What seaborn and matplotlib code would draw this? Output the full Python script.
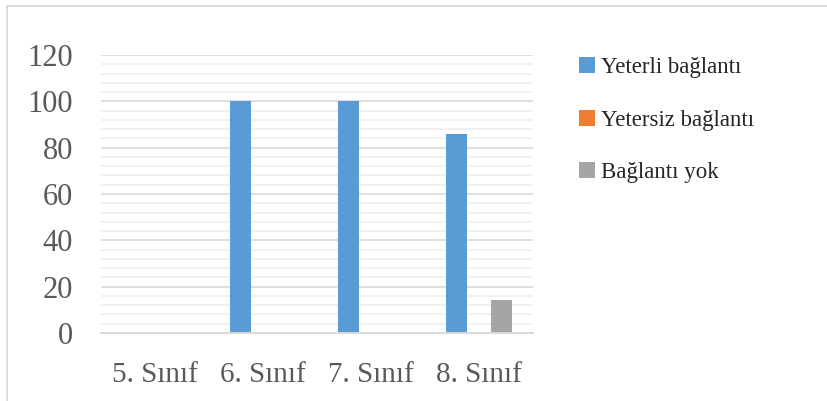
import matplotlib
matplotlib.use("Agg")
import matplotlib.pyplot as plt
from matplotlib.patches import Patch, Rectangle
from matplotlib.ticker import MultipleLocator
import pandas as pd
import seaborn as sns

grades = ["5. Sınıf", "6. Sınıf", "7. Sınıf", "8. Sınıf"]
series_names = ["Yeterli bağlantı", "Yetersiz bağlantı", "Bağlantı yok"]
yeterli = [0, 100, 100, 85.7]
yetersiz = [0, 0, 0, 0]
baglanti_yok = [0, 0, 0, 14.3]
colors = ["#5B9BD5", "#ED7D31", "#A5A5A5"]
y_ticks = [0, 20, 40, 60, 80, 100, 120]

rows = []
for name, vals in zip(series_names, [yeterli, yetersiz, baglanti_yok]):
    for g, v in zip(grades, vals):
        rows.append({"Sınıf": g, "Durum": name, "Yüzde": v})
df = pd.DataFrame(rows)

sns.set_theme(style="white")
plt.rcParams["font.family"] = ["Liberation Serif", "DejaVu Serif"]

W, H = 828, 401
fig = plt.figure(figsize=(W / 100, H / 100), dpi=100)
ax = fig.add_axes([101 / W, 1 - 333 / H, (533 - 101) / W, (333 - 55) / H])

sns.barplot(data=df, x="Sınıf", y="Yüzde", hue="Durum", order=grades,
            hue_order=series_names, palette=colors, width=0.62, gap=0.04,
            linewidth=0, saturation=1, ax=ax, legend=False)

ax.set_ylim(0, 120)
ax.set_xlim(-0.5, 3.5)
ax.set_yticks(y_ticks)
ax.yaxis.set_minor_locator(MultipleLocator(4))
ax.grid(True, which="major", axis="y", color="#D9D9D9", linewidth=1.2)
ax.grid(True, which="minor", axis="y", color="#EFEFEF", linewidth=1.2)
ax.set_axisbelow(True)
for s in ["top", "right", "left"]:
    ax.spines[s].set_visible(False)
ax.spines["bottom"].set_color("#D9D9D9")
ax.spines["bottom"].set_linewidth(1.4)
ax.tick_params(axis="y", which="both", length=0, pad=20, labelsize=22, labelcolor="#595959")
ax.tick_params(axis="x", length=0, pad=21, labelsize=21, labelcolor="#595959")
ax.set_xlabel("")
ax.set_ylabel("")

handles = [Patch(facecolor=c, edgecolor="none") for c in colors]
fig.legend(handles, series_names, loc="upper left",
           bbox_to_anchor=(579 / W, 1 - 57 / H), frameon=False,
           fontsize=16.5, labelcolor="#262626", handlelength=0.7,
           handleheight=0.7, handletextpad=0.28, labelspacing=1.38,
           borderpad=0, borderaxespad=0)

# outer chart frame
fig.add_artist(Rectangle((7 / W, -0.05), 1.1, 1 - 6 / H + 0.05,
                         transform=fig.transFigure, fill=False,
                         edgecolor="#D9D9D9", linewidth=1.3))

fig.savefig("out.png", dpi=100, facecolor="white")
